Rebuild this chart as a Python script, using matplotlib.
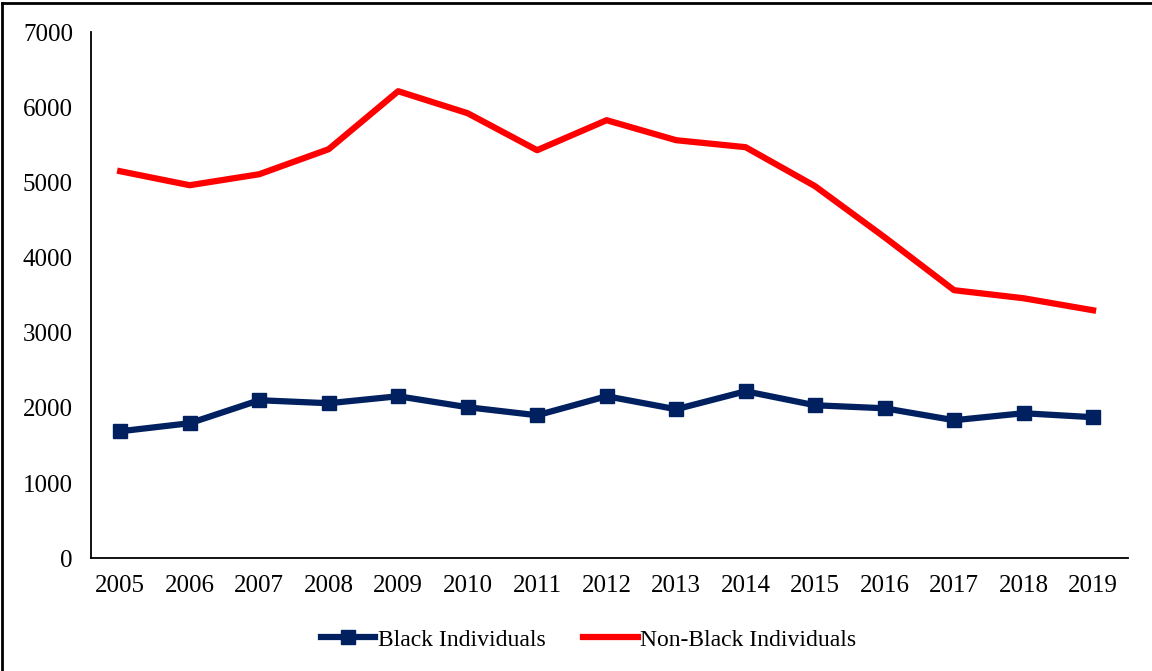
import matplotlib.pyplot as plt
from matplotlib.lines import Line2D

plt.rcParams['font.family'] = ['Liberation Serif', 'DejaVu Serif']

years = [2005, 2006, 2007, 2008, 2009, 2010, 2011, 2012, 2013, 2014, 2015, 2016, 2017, 2018, 2019]
black = [1690, 1797, 2103, 2063, 2156, 2010, 1903, 2156, 1983, 2222, 2036, 1996, 1837, 1930, 1877]
non_black = [5150, 4964, 5110, 5443, 6215, 5922, 5430, 5829, 5563, 5470, 4951, 4272, 3567, 3460, 3300]

fig = plt.figure(figsize=(11.52, 6.71), dpi=100)
ax = fig.add_axes([0.079, 0.168, 0.900, 0.784])

ax.plot(years, black, c='#002060', lw=4.5, marker='s', ms=10, label='Black Individuals')
ax.plot(years, non_black, c='#ff0000', lw=4.5, label='Non-Black Individuals')

ax.set_xlim(2004.58, 2019.5)
ax.set_ylim(0, 7000)
ax.set_xticks(years)
ax.set_xticklabels([str(y) for y in years])
ax.set_yticks(range(0, 7001, 1000))
ax.tick_params(axis='both', labelsize=18)
ax.tick_params(axis='x', length=0, pad=12)
ax.tick_params(axis='y', length=0, pad=13)
ax.spines['top'].set_visible(False)
ax.spines['right'].set_visible(False)
ax.spines['left'].set_linewidth(1.3)
ax.spines['bottom'].set_linewidth(1.3)

ax.legend(loc='center', bbox_to_anchor=(0.480, -0.155), ncol=2, frameon=False,
          fontsize=17, handlelength=2.3, handletextpad=0.1, columnspacing=1.6)

# outer frame (top and left edges visible)
fig.add_artist(Line2D([0.002, 1.0], [0.995, 0.995], transform=fig.transFigure, c='black', lw=2))
fig.add_artist(Line2D([0.002, 0.002], [0.0, 0.995], transform=fig.transFigure, c='black', lw=2))

fig.savefig('out.png', dpi=100)
